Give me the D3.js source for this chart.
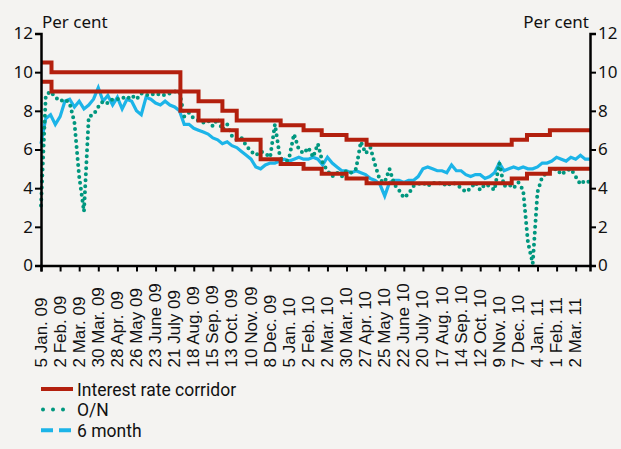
<!DOCTYPE html>
<html>
<head>
<meta charset="utf-8">
<script src="https://cdnjs.cloudflare.com/ajax/libs/d3/7.8.5/d3.min.js"></script>
<style>
  html, body { margin: 0; padding: 0; background: #f4f3f1; }
  svg { display: block; font-family: "Noto Sans", sans-serif; }
</style>
</head>
<body>
<svg id="chart" width="621" height="449"></svg>
<script>
// x axis labels, one every 20 trading days
var tickLabels = ["5 Jan. 09","2 Feb. 09","2 Mar. 09","30 Mar. 09","28 Apr. 09","26 May 09","23 June 09",
  "21 July 09","18 Aug. 09","15 Sep. 09","13 Oct. 09","10 Nov. 09","8 Dec. 09","5 Jan. 10","2 Feb. 10",
  "2 Mar. 10","30 Mar. 10","27 Apr. 10","25 May 10","22 June 10","20 July 10","17 Aug. 10","14 Sep. 10",
  "12 Oct. 10","9 Nov. 10","7 Dec. 10","4 Jan. 11","1 Feb. 11","2 Mar. 11"];
var lastDay = 575;

// interest rate corridor, trading day where each level starts
var corridorStart = [0, 11, 146, 165, 190, 205, 230, 251, 275, 294, 320, 341, 493, 509, 533];
var corridorUpper = [10.5, 10, 9, 8.5, 8, 7.5, 7.5, 7.25, 7, 6.75, 6.5, 6.25, 6.5, 6.75, 7];
var corridorLower = [9.5, 9, 8, 7.5, 7, 6.5, 5.5, 5.25, 5, 4.75, 4.5, 4.25, 4.5, 4.75, 5];

// rates read every 5 trading days
var step = 5;
var overnight = [3.1,8.8,9.0,8.7,8.5,8.6,8.4,7.4,4.6,2.8,7.7,7.8,8.2,8.5,8.4,8.6,8.6,8.7,8.6,8.8,
  8.6,8.9,8.8,8.9,8.8,8.9,8.8,8.9,9.0,9.0,7.7,7.9,7.6,7.5,7.4,7.5,7.2,7.6,7.0,7.3,
  6.7,6.5,6.6,6.2,5.9,5.7,5.9,5.8,5.6,7.3,5.7,5.2,5.6,6.8,6.0,5.8,6.1,5.6,6.3,5.3,
  4.9,4.6,4.8,4.6,4.9,4.8,5.0,6.4,5.8,6.1,5.2,4.4,4.3,5.0,4.2,3.9,3.5,3.7,4.1,4.2,
  4.3,4.1,4.3,4.2,4.3,4.1,4.3,4.2,4.0,3.8,4.0,4.3,3.9,4.2,4.1,3.9,5.3,4.1,4.2,4.0,
  4.3,3.9,1.2,0.1,3.8,4.6,4.8,4.9,5.0,4.7,4.9,5.0,4.6,4.2,4.4,4.3];
var sixMonth = [6.3,7.6,7.8,7.3,7.7,8.5,8.6,8.2,8.5,8.1,8.3,8.6,9.2,8.5,8.8,8.3,8.7,8.1,8.6,8.5,
  8.0,7.8,8.7,8.6,8.4,8.3,8.5,8.3,8.2,8.0,7.3,7.3,7.1,7.0,6.9,6.8,6.6,6.5,6.3,6.4,
  6.2,6.1,5.9,5.7,5.5,5.1,5.0,5.2,5.3,5.3,5.4,5.5,5.4,5.5,5.6,5.5,5.5,5.6,5.5,5.2,
  5.6,5.3,5.1,4.9,4.9,4.8,4.9,4.8,4.7,4.5,4.4,4.2,3.6,4.3,4.4,4.4,4.3,4.4,4.4,4.6,
  5.0,5.1,5.0,4.9,4.9,4.8,5.2,4.9,4.9,4.7,4.6,4.7,4.7,4.5,4.6,4.8,5.3,4.9,5.0,5.1,
  5.0,5.1,5.0,5.0,5.1,5.3,5.3,5.4,5.6,5.5,5.4,5.6,5.5,5.7,5.5,5.5];

var yTicks = [0, 2, 4, 6, 8, 10, 12];

var red = "#b3200e", teal = "#00977f", blue = "#1cb4e8";

var svg = d3.select("#chart");
var x = d3.scaleLinear().domain([0, lastDay]).range([41, 590]);
var y = d3.scaleLinear().domain([0, 12]).range([265.5, 33.5]);

// corridor lines as steps
function corridor(levels){
  var pts = corridorStart.map(function(d, i){ return [d, levels[i]]; });
  pts.push([lastDay, levels[levels.length - 1]]);
  return pts;
}
var stepLine = d3.line()
  .x(function(d){ return x(d[0]); })
  .y(function(d){ return y(d[1]); })
  .curve(d3.curveStepAfter);

var rateLine = d3.line()
  .x(function(d, i){ return x(i * step); })
  .y(function(d){ return y(d); });

svg.append("path").datum(sixMonth)
  .attr("d", rateLine)
  .attr("fill", "none").attr("stroke", blue).attr("stroke-width", 3.2);

svg.append("path").datum(overnight)
  .attr("d", rateLine)
  .attr("fill", "none").attr("stroke", teal).attr("stroke-width", 4)
  .attr("stroke-linecap", "round").attr("stroke-dasharray", "0 6");

[corridorUpper, corridorLower].forEach(function(levels){
  svg.append("path").datum(corridor(levels))
    .attr("d", stepLine)
    .attr("fill", "none").attr("stroke", red).attr("stroke-width", 4);
});

// axes
var leftAxis = svg.append("g").attr("transform", "translate(41,0)")
  .call(d3.axisLeft(y).tickValues(yTicks).tickSize(6).tickPadding(2));
var rightAxis = svg.append("g").attr("transform", "translate(590,0)")
  .call(d3.axisRight(y).tickValues(yTicks).tickSize(6).tickPadding(2));
var bottomAxis = svg.append("g").attr("transform", "translate(0,265.5)")
  .call(d3.axisBottom(x).tickValues(d3.range(0, tickLabels.length * 20, 20)).tickSize(6).tickFormat(""));

[leftAxis, rightAxis, bottomAxis].forEach(function(g){
  g.select(".domain").attr("stroke", "#000").attr("stroke-width", 2.5);
  g.selectAll(".tick line").attr("stroke", "#000").attr("stroke-width", 2);
  g.selectAll("text").attr("font-size", 17).attr("fill", "#111").attr("font-family", "Noto Sans");
});

bottomAxis.selectAll(".tick").append("text")
  .attr("transform", "translate(5,102) rotate(-90)")
  .attr("text-anchor", "start")
  .attr("font-size", 17).attr("fill", "#111")
  .text(function(d, i){ return tickLabels[i]; });

svg.append("text").attr("x", 42).attr("y", 28).attr("font-size", 17).attr("fill", "#111").text("Per cent");
svg.append("text").attr("x", 589).attr("y", 28).attr("text-anchor", "end").attr("font-size", 17).attr("fill", "#111").text("Per cent");

// legend
var legendItems = ["Interest rate corridor", "O/N", "6 month"];
var legend = svg.append("g").selectAll("g").data(legendItems).enter().append("g")
  .attr("transform", function(d, i){ return "translate(0," + (389 + i * 20.6) + ")"; });
legend.append("line")
  .attr("x1", function(d, i){ return i == 1 ? 43 : 41; }).attr("x2", 73)
  .attr("stroke", function(d, i){ return [red, teal, blue][i]; })
  .attr("stroke-width", 4)
  .attr("stroke-linecap", function(d, i){ return i == 1 ? "round" : "butt"; })
  .attr("stroke-dasharray", function(d, i){ return [null, "0 10", "12 6"][i]; });
legend.append("text").attr("x", 77).attr("y", 6.5)
  .attr("font-family", "Roboto").attr("font-size", 17.5).attr("fill", "#111")
  .text(function(d){ return d; });
</script>
</body>
</html>
